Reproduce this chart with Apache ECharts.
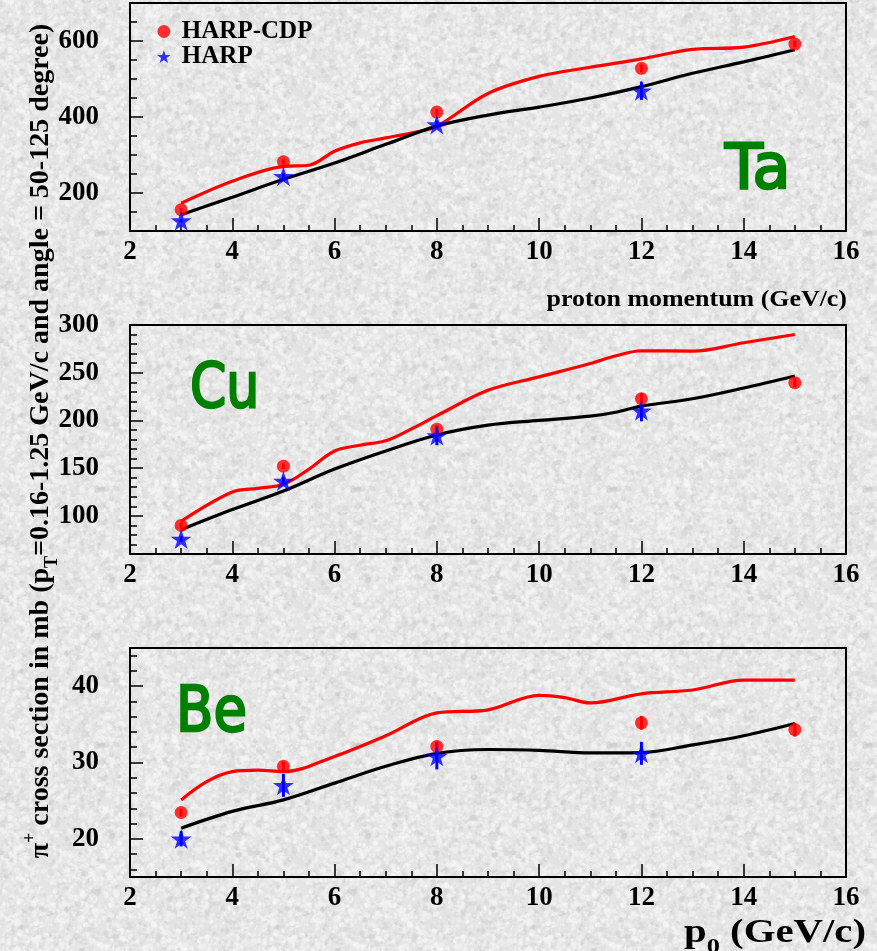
<!DOCTYPE html>
<html>
<head>
<meta charset="utf-8">
<script src="https://cdn.jsdelivr.net/npm/echarts@6/dist/echarts.min.js"></script>
<style>
  html, body { margin: 0; padding: 0; }
  body { width: 877px; height: 951px; overflow: hidden; background: #e4e4e4; }
  #chart { width: 877px; height: 951px; }
</style>
</head>
<body>
<div id="chart"></div>
<script>
// ---- measured points (x = beam momentum in GeV/c) ----
const pointX = [3, 5, 8, 12, 15];
const harpX = [3, 5, 8, 12];

// Ta
const taCdp = [156, 282, 413, 528, 592];
const taCdpErr = [5, 7, 8, 10, 9];
const taHarp = [127, 244, 380, 469];
const taHarpErr = [5, 8, 10, 24];
const taRedX = [3, 4, 5, 5.5, 6, 6.5, 7, 7.5, 8, 9, 10, 11, 12, 13, 14, 15];
const taRedY = [173, 231, 270, 273, 310, 332, 345, 358, 376, 462, 507, 531, 553, 578, 584, 612];
const taBlackX = [3, 4, 5, 6, 7, 8, 9, 10, 11, 12, 13, 14, 15];
const taBlackY = [143, 189, 236, 279, 328, 376, 405, 426, 450, 480, 515, 545, 577];

// Cu
const cuCdp = [90, 152, 190.8, 222.7, 239.6];
const cuCdpErr = [3, 3, 4, 6, 5];
const cuHarp = [75.7, 136.5, 184, 210];
const cuHarpErr = [3, 4, 10, 11];
const cuRedX = [3, 4, 4.5, 5, 5.5, 6, 6.5, 7, 7.5, 8, 9, 10, 11, 11.5, 12, 13, 14, 15];
const cuRedY = [94.3, 125, 128.8, 133, 149, 168, 174, 178.7, 191, 205, 231.5, 245.6, 259.6, 267.7, 273, 272.6, 281.4, 290];
const cuBlackX = [3, 4, 5, 6, 7, 8, 9, 10, 11, 11.5, 12, 13, 14, 15];
const cuBlackY = [85.5, 106.6, 126, 149, 168, 184.7, 195, 200, 204.5, 208.6, 215, 222.7, 234, 246.6];

// Be
const beCdp = [23.45, 29.5, 32.1, 35.2, 34.3];
const beCdpErr = [0.5, 0.6, 0.7, 0.9, 0.9];
const beHarp = [20, 27, 30.8, 31.2];
const beHarpErr = [1.0, 1.5, 1.7, 1.5];
const beRedX = [3, 3.5, 4, 4.5, 5, 6, 7, 8, 9, 10, 10.5, 11, 12, 13, 14, 15];
const beRedY = [25.1, 27.5, 28.8, 29.0, 28.8, 30.8, 33.5, 36.5, 36.9, 38.8, 38.5, 37.8, 39.0, 39.5, 40.8, 40.8];
const beBlackX = [3, 4, 5, 6, 7, 8, 9, 10, 11, 12, 13, 14, 15];
const beBlackY = [21.4, 23.6, 25.1, 27.3, 29.5, 31.2, 31.7, 31.6, 31.25, 31.3, 32.3, 33.5, 35.1];

// ---- axis ticks ----
const xTickLabels = [2, 4, 6, 8, 10, 12, 14, 16];
const taYLabels = [200, 400, 600];
const cuYLabels = [100, 150, 200, 250, 300];
const beYLabels = [20, 30, 40];

function steps(from, to, step) {
  const out = [];
  for (let v = from; v <= to + 1e-9; v += step) out.push(+v.toFixed(4));
  return out;
}

const panels = [
  { name: 'Ta', cdp: taCdp, cdpErr: taCdpErr, harp: taHarp, harpErr: taHarpErr,
    redX: taRedX, redY: taRedY, blackX: taBlackX, blackY: taBlackY,
    min: 100, max: 700, major: taYLabels, minor: steps(150, 650, 50),
    grid: { left: 130, top: 3, width: 716, height: 228 } },
  { name: 'Cu', cdp: cuCdp, cdpErr: cuCdpErr, harp: cuHarp, harpErr: cuHarpErr,
    redX: cuRedX, redY: cuRedY, blackX: cuBlackX, blackY: cuBlackY,
    min: 60, max: 300, major: cuYLabels, minor: steps(70, 290, 10),
    grid: { left: 130, top: 325, width: 716, height: 229 } },
  { name: 'Be', cdp: beCdp, cdpErr: beCdpErr, harp: beHarp, harpErr: beHarpErr,
    redX: beRedX, redY: beRedY, blackX: beBlackX, blackY: beBlackY,
    min: 15, max: 45, major: beYLabels, minor: steps(16, 44, 2),
    grid: { left: 130, top: 648, width: 716, height: 229 } }
];

const SERIF = "'Liberation Serif', 'Times New Roman', serif";
const RED = '#ff0000';
const BLUE = '#0000ff';
const GREEN = '#008000';
const STAR = 'path://M50,0 L61.8,35.3 L99,35.3 L68.9,57.2 L80.4,92.7 L50,70.8 L19.6,92.7 L31.1,57.2 L1,35.3 L38.2,35.3 Z';

const zip = (xs, ys) => xs.map((x, k) => [x, ys[k]]);
const zip3 = (xs, ys, es) => xs.map((x, k) => [x, ys[k], es[k]]);

function errorBars(color) {
  return function (params, api) {
    const x = api.value(0), y = api.value(1), e = api.value(2);
    const a = api.coord([x, y - e]);
    const b = api.coord([x, y + e]);
    return { type: 'line', shape: { x1: a[0], y1: a[1], x2: b[0], y2: b[1] },
             style: { stroke: color, lineWidth: 3 } };
  };
}

const grids = [], xAxes = [], yAxes = [], series = [];
panels.forEach((p, i) => {
  grids.push(Object.assign({ show: true, borderColor: '#000', borderWidth: 2,
                             backgroundColor: 'transparent' }, p.grid));
  xAxes.push({
    gridIndex: i, type: 'value', min: 2, max: 16, interval: 2,
    axisLine: { show: true, lineStyle: { color: '#000', width: 2 } },
    axisTick: { show: true, inside: true, length: 13, lineStyle: { color: '#000', width: 1.5 } },
    minorTick: { show: true, splitNumber: 4, length: 6, lineStyle: { color: '#000', width: 1.5 } },
    splitLine: { show: false },
    axisLabel: { margin: 8, fontFamily: SERIF, fontWeight: 'bold', fontSize: 27, color: '#000',
                 customValues: xTickLabels }
  });
  yAxes.push({
    gridIndex: i, type: 'value', min: p.min, max: p.max, position: 'left',
    axisLine: { show: true, lineStyle: { color: '#000', width: 2 } },
    axisTick: { show: true, inside: true, length: 13, customValues: p.major,
                lineStyle: { color: '#000', width: 1.5 } },
    axisLabel: { customValues: p.major, margin: 31, fontFamily: SERIF, fontWeight: 'bold',
                 fontSize: 27, color: '#000' },
    splitLine: { show: false }
  });
  yAxes.push({
    gridIndex: i, type: 'value', min: p.min, max: p.max, position: 'left',
    axisLine: { show: false },
    axisTick: { show: true, inside: true, length: 7, customValues: p.minor,
                lineStyle: { color: '#000', width: 1.5 } },
    axisLabel: { show: false },
    splitLine: { show: false }
  });
  const ax = { xAxisIndex: i, yAxisIndex: 2 * i };
  series.push(Object.assign({
    name: p.name + ' HARP-CDP model', type: 'line', smooth: 0.35, showSymbol: false,
    data: zip(p.redX, p.redY), lineStyle: { color: RED, width: 3.2 }, z: 2, silent: true
  }, ax));
  series.push(Object.assign({
    name: p.name + ' HARP model', type: 'line', smooth: 0.35, showSymbol: false,
    data: zip(p.blackX, p.blackY), lineStyle: { color: '#000', width: 3.2 }, z: 2, silent: true
  }, ax));
  series.push(Object.assign({
    type: 'custom', renderItem: errorBars(RED), encode: { x: 0, y: 1 },
    data: zip3(pointX, p.cdp, p.cdpErr), z: 3, silent: true
  }, ax));
  series.push(Object.assign({
    type: 'custom', renderItem: errorBars(BLUE), encode: { x: 0, y: 1 },
    data: zip3(harpX, p.harp, p.harpErr), z: 3, silent: true
  }, ax));
  series.push(Object.assign({
    name: 'HARP-CDP', type: 'scatter', symbol: 'circle', symbolSize: 13,
    itemStyle: { color: RED }, data: zip(pointX, p.cdp), z: 4
  }, ax));
  series.push(Object.assign({
    name: 'HARP', type: 'scatter', symbol: STAR, symbolKeepAspect: true, symbolSize: 21,
    itemStyle: { color: BLUE }, data: zip(harpX, p.harp), z: 5
  }, ax));
});

function elementLabel(text, x, y, sx) {
  return { type: 'text', x: x, y: y, scaleX: sx, z: 10,
    style: { text: text, x: 0, y: 0, fill: GREEN, stroke: GREEN, lineWidth: 2.5,
             font: "normal 62px 'DejaVu Sans', sans-serif", textAlign: 'left',
             textVerticalAlign: 'middle' } };
}

const option = {
  backgroundColor: 'transparent',
  animation: false,
  grid: grids,
  xAxis: xAxes,
  yAxis: yAxes,
  series: series,
  legend: {
    data: ['HARP-CDP', 'HARP'], orient: 'vertical', left: 152, top: 14,
    itemWidth: 26, itemHeight: 13, itemGap: 0, selectedMode: false,
    textStyle: { fontFamily: SERIF, fontWeight: 'bold', fontSize: 25, color: '#000',
                 lineHeight: 23 }
  },
  graphic: [
    elementLabel('Ta', 725, 172, 1.0),
    elementLabel('Cu', 190, 391, 0.84),
    elementLabel('Be', 176, 715, 0.88),
    { type: 'text', x: 847, y: 300, scaleX: 1.08, z: 10,
      style: { text: 'proton momentum (GeV/c)', x: 0, y: 0, fill: '#000',
               font: "bold 24px 'Liberation Serif', serif", textAlign: 'right',
               textVerticalAlign: 'middle' } },
    { type: 'text', x: 866, y: 930, scaleX: 1.2, z: 10,
      style: { text: '{b|p}{s|0}{b| (GeV/c)}', x: 0, y: 0, fill: '#000',
               textAlign: 'right', textVerticalAlign: 'middle',
               rich: {
                 b: { fontFamily: SERIF, fontWeight: 'bold', fontSize: 34, lineHeight: 40,
                      verticalAlign: 'bottom' },
                 s: { fontFamily: SERIF, fontWeight: 'bold', fontSize: 22, lineHeight: 40,
                      verticalAlign: 'bottom', padding: [0, 0, -8, 0] }
               } } },
    { type: 'text', x: 38, y: 441, rotation: Math.PI / 2, z: 10,
      style: { text: '{b|π}{u|+}{b| cross section in mb (p}{d|T}{b|=0.16-1.25 GeV/c and angle = 50-125 degree)}',
               x: 0, y: 0, fill: '#000', textAlign: 'center', textVerticalAlign: 'middle',
               rich: {
                 b: { fontFamily: SERIF, fontWeight: 'bold', fontSize: 28, lineHeight: 34,
                      verticalAlign: 'bottom' },
                 u: { fontFamily: SERIF, fontWeight: 'bold', fontSize: 18, lineHeight: 34,
                      verticalAlign: 'top' },
                 d: { fontFamily: SERIF, fontWeight: 'bold', fontSize: 18, lineHeight: 34,
                      verticalAlign: 'bottom', padding: [0, 0, -6, 0] }
               } } }
  ]
};

// mottled grey paper texture behind the plot
(function paintTexture() {
  const size = 256;
  const c = document.createElement('canvas');
  c.width = c.height = size;
  const g = c.getContext('2d');
  g.fillStyle = '#e5e5e5';
  g.fillRect(0, 0, size, size);
  let seed = 20240607;
  const rnd = () => {
    seed |= 0; seed = (seed + 0x6D2B79F5) | 0;
    let t = Math.imul(seed ^ (seed >>> 15), 1 | seed);
    t = (t + Math.imul(t ^ (t >>> 7), 61 | t)) ^ t;
    return ((t ^ (t >>> 14)) >>> 0) / 4294967296;
  };
  for (let k = 0; k < 7000; k++) {
    const x = rnd() * size, y = rnd() * size, r = 0.8 + rnd() * 2.6;
    const light = rnd() < 0.55;
    const v = light ? 250 : (180 + Math.floor(rnd() * 40));
    g.fillStyle = 'rgba(' + v + ',' + v + ',' + v + ',' + (light ? 0.38 : 0.2) + ')';
    g.beginPath();
    g.ellipse(x, y, r, r * (0.5 + rnd() * 0.6), rnd() * Math.PI, 0, Math.PI * 2);
    g.fill();
  }
  document.body.style.backgroundImage = 'url(' + c.toDataURL() + ')';
})();

const chart = echarts.init(document.getElementById('chart'), null, { renderer: 'canvas' });
chart.setOption(option);
</script>
</body>
</html>
